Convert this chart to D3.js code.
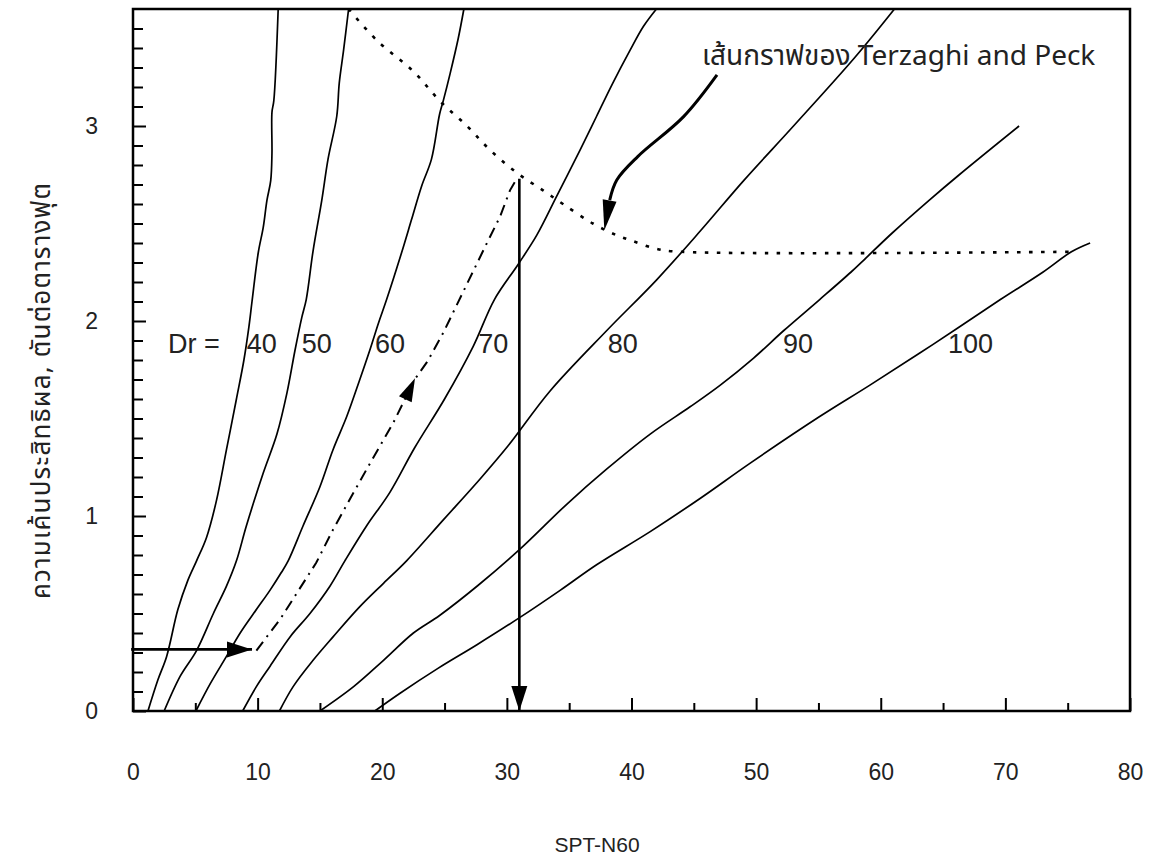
<!DOCTYPE html>
<html>
<head>
<meta charset="utf-8">
<script src="https://cdn.jsdelivr.net/npm/d3@7/dist/d3.min.js"></script>
<style>
  html, body { margin: 0; padding: 0; background: #fff; }
  svg { display: block; }
  text { font-family: "Liberation Sans", Arial, "Noto Sans", sans-serif; fill: #222; }
  .thai { font-family: "Noto Sans Thai", "Noto Sans", "DejaVu Sans", "Liberation Sans", sans-serif; }
</style>
</head>
<body>
<svg id="chart" width="1154" height="861"></svg>
<script>
// ---------------- DATA ----------------
const xTickValues = [0, 10, 20, 30, 40, 50, 60, 70, 80];
const yTickValues = [0, 1, 2, 3];
const drCategories = ["40", "50", "60", "70", "80", "90", "100"];

const dr40 = [[1.2,0],[2.0,0.16],[2.7,0.28],[3.6,0.52],[4.4,0.67],[5.1,0.77],[5.9,0.89],[6.7,1.08],[7.5,1.34],[8.3,1.6],[8.9,1.8],[9.3,1.97],[9.55,2.1],[10.05,2.35],[10.45,2.48],[10.75,2.62],[11.05,2.72],[11.15,2.86],[11.15,3.07],[11.3,3.13],[11.65,3.6]];
const dr50 = [[2.5,0],[3.8,0.18],[5.1,0.31],[6.45,0.5],[7.5,0.64],[8.3,0.77],[9.1,0.95],[10.45,1.22],[11.55,1.42],[12.35,1.63],[13.0,1.85],[13.55,2.02],[13.9,2.11],[14.45,2.36],[15.15,2.62],[15.65,2.83],[16.35,3.05],[16.55,3.22],[16.9,3.39],[17.3,3.6]];
const dr60 = [[5.05,0],[6.2,0.14],[7.5,0.28],[8.6,0.4],[9.9,0.52],[11.0,0.62],[11.9,0.71],[12.45,0.77],[13.65,0.95],[15.0,1.15],[16.05,1.34],[17.15,1.51],[18.2,1.7],[19.0,1.85],[19.7,1.99],[20.35,2.11],[21.55,2.35],[22.35,2.52],[23.15,2.69],[23.95,2.83],[24.6,3.06],[24.9,3.13],[25.45,3.27],[26.1,3.45],[26.55,3.6]];
const dr70 = [[8.8,0],[9.9,0.125],[11.0,0.23],[12.6,0.38],[14.2,0.5],[15.8,0.64],[17.0,0.77],[18.75,0.95],[20.6,1.12],[22.6,1.35],[25.0,1.6],[27.3,1.87],[29.0,2.11],[30.9,2.29],[32.4,2.44],[34.0,2.64],[35.9,2.88],[37.2,3.05],[38.5,3.22],[39.9,3.39],[40.95,3.51],[42.0,3.6]];
const dr80 = [[11.75,0],[12.85,0.125],[14.45,0.26],[16.05,0.38],[18.2,0.535],[20.1,0.655],[21.95,0.77],[24.9,0.98],[27.85,1.19],[30.1,1.36],[33.45,1.64],[38.0,1.95],[42.0,2.21],[45.5,2.46],[49.0,2.72],[53.0,3.0],[57.9,3.35],[61.1,3.6]];
const dr90 = [[15.0,0],[17.7,0.125],[20.1,0.26],[22.5,0.4],[24.6,0.49],[27.7,0.645],[31.05,0.83],[34.8,1.06],[38.0,1.24],[41.5,1.42],[44.7,1.56],[47.1,1.67],[49.8,1.81],[52.2,1.95],[55.1,2.11],[57.6,2.25],[58.6,2.31],[60.9,2.45],[63.9,2.62],[66.3,2.75],[71.1,3.0]];
const dr100 = [[19.4,0],[21.4,0.09],[24.5,0.22],[27.6,0.34],[31.05,0.48],[34.3,0.62],[37.2,0.75],[41.5,0.92],[45.5,1.09],[49.5,1.27],[55.1,1.51],[59.1,1.67],[64.2,1.88],[69.6,2.11],[73.0,2.25],[75.3,2.355],[76.8,2.4]];

// Terzaghi and Peck limit (dotted)
const terzaghiPeck = [[17.3,3.6],[19.55,3.44],[22.5,3.28],[24.6,3.13],[26.8,3.0],[28.6,2.88],[30.8,2.76],[32.9,2.67],[34.5,2.6],[36.9,2.5],[38.8,2.44],[40.1,2.41],[42.0,2.37],[43.9,2.355],[75.3,2.355]];
// worked example path (dash-dot)
const examplePath = [[9.9,0.31],[11.8,0.47],[13.1,0.6],[14.7,0.76],[16.05,0.93],[17.7,1.12],[18.75,1.24],[20.9,1.48],[22.6,1.7],[23.6,1.79],[24.9,1.94],[26.8,2.19],[28.4,2.4],[29.45,2.535],[30.25,2.67],[30.8,2.73]];
// input arrow (stress level) and output arrow (N value)
const inputArrow = [[-0.15,0.316],[9.55,0.316]];
const outputArrow = [[31.0,2.73],[31.0,0]];
const pathArrowHead = [[21.75,1.585],[22.63,1.706]];
// curved callout arrow
const calloutArrow = [[46.86,3.262],[44.18,3.048],[40.5,2.843],[38.82,2.723],[38.25,2.62]];
const calloutTip = [37.82,2.466];

const drSeries = [dr40, dr50, dr60, dr70, dr80, dr90, dr100];

// ---------------- TEXT ----------------
const xTitle = "SPT-N60";
const yTitle = "ความเค้นประสิทธิผล, ตันต่อตารางฟุต";
const drPrefix = "Dr =";
const calloutText = "เส้นกราฟของ Terzaghi and Peck";

// ---------------- LAYOUT (not data) ----------------
const layout = {
  left: 133, right: 1130, top: 9, bottom: 711,
  drLabelAt: { prefixX: 2.81, y: 1.836, xs: [9.12, 13.54, 19.42, 27.7, 38.1, 52.16, 65.4] },
  calloutTextAt: { x: 45.66, y: 3.313 }
};

const svg = d3.select("#chart");
const x = d3.scaleLinear().domain([0, 80]).range([layout.left, layout.right]);
const y = d3.scaleLinear().domain([0, 3.6]).range([layout.bottom, layout.top]);

const tickFont = "'Liberation Sans', Arial, sans-serif";

// axes: minor and major ticks, inward
svg.append("g").attr("transform", `translate(0,${layout.bottom})`)
  .call(d3.axisBottom(x).tickValues(d3.range(5, 80, 10)).tickSizeInner(-8).tickSizeOuter(0).tickFormat(""))
  .call(g => g.select(".domain").remove())
  .call(g => g.selectAll("line").attr("stroke", "#000").attr("stroke-width", 2));
svg.append("g").attr("transform", `translate(0,${layout.bottom})`)
  .call(d3.axisBottom(x).tickValues(xTickValues).tickSizeInner(-13).tickSizeOuter(0).tickPadding(53).tickFormat(d3.format("d")))
  .call(g => g.select(".domain").remove())
  .call(g => g.selectAll("line").attr("stroke", "#000").attr("stroke-width", 2))
  .call(g => g.selectAll("text").attr("font-size", 23).attr("fill", "#222").attr("font-family", tickFont));

const minorY = d3.range(1, 36).map(i => i / 10).filter(v => Math.abs(v - Math.round(v)) > 1e-6);
svg.append("g").attr("transform", `translate(${layout.left},0)`)
  .call(d3.axisLeft(y).tickValues(minorY).tickSizeInner(-10).tickSizeOuter(0).tickFormat(""))
  .call(g => g.select(".domain").remove())
  .call(g => g.selectAll("line").attr("stroke", "#000").attr("stroke-width", 2));
svg.append("g").attr("transform", `translate(${layout.left},0)`)
  .call(d3.axisLeft(y).tickValues(yTickValues).tickSizeInner(-13).tickSizeOuter(0).tickPadding(35).tickFormat(d3.format("d")))
  .call(g => g.select(".domain").remove())
  .call(g => g.selectAll("line").attr("stroke", "#000").attr("stroke-width", 2))
  .call(g => g.selectAll("text").attr("font-size", 23).attr("fill", "#222").attr("font-family", tickFont));

// frame
svg.append("rect")
  .attr("x", x(0)).attr("y", y(3.6))
  .attr("width", x(80) - x(0)).attr("height", y(0) - y(3.6))
  .attr("fill", "none").attr("stroke", "#000").attr("stroke-width", 2.5);

const line = d3.line().x(d => x(d[0])).y(d => y(d[1])).curve(d3.curveCatmullRom.alpha(0.5));
const straight = d3.line().x(d => x(d[0])).y(d => y(d[1]));

// Dr curves
svg.append("g").selectAll("path").data(drSeries).join("path")
  .attr("d", line).attr("fill", "none").attr("stroke", "#000").attr("stroke-width", 1.7);

// Terzaghi & Peck dotted
svg.append("path").datum(terzaghiPeck).attr("d", line)
  .attr("fill", "none").attr("stroke", "#000").attr("stroke-width", 2.6)
  .attr("stroke-dasharray", "3.5,8.5");

// example dash-dot
svg.append("path").datum(examplePath).attr("d", straight)
  .attr("fill", "none").attr("stroke", "#000").attr("stroke-width", 2)
  .attr("stroke-dasharray", "11,6,2,6");

function arrowHead(from, tip, len, wid) {
  const fx = x(from[0]), fy = y(from[1]), tx = x(tip[0]), ty = y(tip[1]);
  const dx = tx - fx, dy = ty - fy, L = Math.hypot(dx, dy);
  const ux = dx / L, uy = dy / L;
  const bx = tx - ux * len, by = ty - uy * len;
  const px = -uy * wid / 2, py = ux * wid / 2;
  return `M${tx},${ty}L${bx + px},${by + py}L${bx - px},${by - py}Z`;
}

// input arrow
svg.append("path").datum(inputArrow).attr("d", straight)
  .attr("stroke", "#000").attr("stroke-width", 2.6).attr("fill", "none");
svg.append("path").attr("d", arrowHead(inputArrow[0], inputArrow[1], 25, 16)).attr("fill", "#000");

// output arrow
svg.append("path").datum(outputArrow).attr("d", straight)
  .attr("stroke", "#000").attr("stroke-width", 2.6).attr("fill", "none");
svg.append("path").attr("d", arrowHead(outputArrow[0], outputArrow[1], 25, 16)).attr("fill", "#000");

// arrow head on example path
svg.append("path").attr("d", arrowHead(pathArrowHead[0], pathArrowHead[1], 23, 14)).attr("fill", "#000");

// callout arrow
svg.append("path").datum(calloutArrow).attr("d", line)
  .attr("stroke", "#000").attr("stroke-width", 3).attr("fill", "none");
svg.append("path").attr("d", arrowHead(calloutArrow[calloutArrow.length - 1], calloutTip, 30, 14)).attr("fill", "#000");

// labels
const lblG = svg.append("g").attr("font-size", 27);
lblG.append("text").attr("x", x(layout.drLabelAt.prefixX)).attr("y", y(layout.drLabelAt.y)).text(drPrefix);
lblG.selectAll("text.dr").data(drCategories).join("text").attr("class", "dr")
  .attr("x", (d, i) => x(layout.drLabelAt.xs[i])).attr("y", y(layout.drLabelAt.y)).text(d => d);

svg.append("text").attr("class", "thai")
  .attr("x", x(layout.calloutTextAt.x)).attr("y", y(layout.calloutTextAt.y))
  .attr("font-size", 28).text(calloutText);

svg.append("text").attr("x", 597).attr("y", 852).attr("text-anchor", "middle")
  .attr("font-size", 21).text(xTitle);

svg.append("text").attr("class", "thai")
  .attr("transform", "translate(50,391) rotate(-90)").attr("text-anchor", "middle")
  .attr("font-size", 26).attr("textLength", 416).attr("lengthAdjust", "spacing")
  .text(yTitle);
</script>
</body>
</html>
